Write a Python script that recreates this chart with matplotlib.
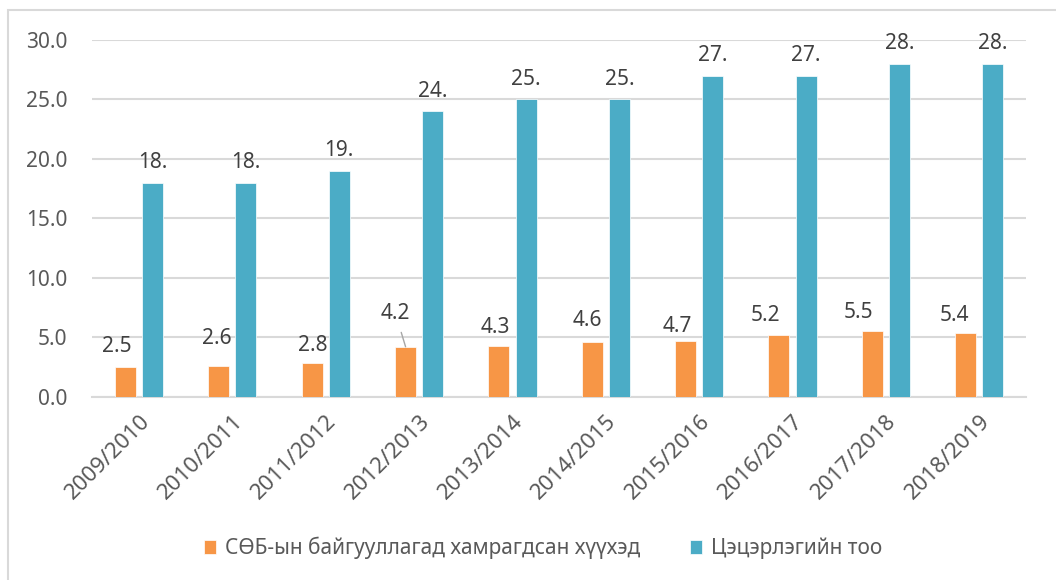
import numpy as np
import matplotlib
matplotlib.use('Agg')
import matplotlib.pyplot as plt
from matplotlib.patches import Rectangle

plt.rcParams['font.family'] = ['Noto Sans', 'DejaVu Sans']

years = ['2009/2010', '2010/2011', '2011/2012', '2012/2013', '2013/2014',
         '2014/2015', '2015/2016', '2016/2017', '2017/2018', '2018/2019']
children = [2.5, 2.6, 2.8, 4.2, 4.3, 4.6, 4.7, 5.2, 5.5, 5.4]
kindergartens = [18, 18, 19, 24, 25, 25, 27, 27, 28, 28]
label_children = 'СӨБ-ын байгууллагад хамрагдсан хүүхэд'
label_kinder = 'Цэцэрлэгийн тоо'

orange = '#F79646'
blue = '#4BACC6'
txt = '#404040'

# label offsets (pixels) for orange labels, as placed in the original
lbl_off = [(-9, 20), (-2, 27), (1, 18), (-10, 33), (-4, 18),
           (-5, 22), (-8, 14), (-13, 19), (-14, 19), (-11, 17)]

fig = plt.figure(figsize=(10.56, 5.80), dpi=100)
ax = fig.add_axes([0.0875, 0.316, 0.884, 0.615])

x = np.arange(len(years))
w = 0.225
off = 0.145
b1 = ax.bar(x - off, children, w, color=orange, edgecolor='white', linewidth=0.5,
            label=label_children, zorder=3)
b2 = ax.bar(x + off, kindergartens, w, color=blue, edgecolor='white', linewidth=0.5,
            label=label_kinder, zorder=3)

for i, v in enumerate(kindergartens):
    ax.annotate(str(v) + '.', (x[i] + off, v), xytext=(0, 20),
                textcoords='offset pixels', ha='center', va='center',
                fontsize=15, color=txt)

for i, v in enumerate(children):
    dx, dy = lbl_off[i]
    arrow = None
    if i == 3:
        # moved label gets a leader line, like excel does
        arrow = dict(arrowstyle='-', color='#A6A6A6', lw=1, shrinkA=4, shrinkB=0)
    ax.annotate('%.1f' % v, (x[i] - off, v), xytext=(dx, dy),
                textcoords='offset pixels', ha='center', va='center',
                fontsize=15, color=txt, arrowprops=arrow)

ax.set_xlim(-0.5, len(years) - 0.5)
ax.set_ylim(0, 30)
ax.set_yticks(np.arange(0, 31, 5))
ax.set_yticklabels(['%.1f' % t for t in np.arange(0, 31, 5)])
ax.set_xticks(x)
ax.set_xticklabels(years, rotation=45, ha='right', rotation_mode='anchor')
ax.tick_params(axis='both', length=0, labelsize=15, labelcolor='#595959')
ax.tick_params(axis='x', pad=10, labelsize=16)
ax.tick_params(axis='y', pad=18)
ax.grid(axis='y', color='#D9D9D9', linewidth=1.5, zorder=0)
for s in ['top', 'right', 'left']:
    ax.spines[s].set_visible(False)
ax.spines['bottom'].set_color('#D9D9D9')
ax.spines['bottom'].set_linewidth(1.5)

fig.legend(handles=[b1, b2], loc='center', bbox_to_anchor=(0.514, 0.055), ncol=2,
           frameon=False, fontsize=15, labelcolor='#595959', handlelength=0.6,
           handleheight=0.6, handletextpad=0.4, columnspacing=2.4)

# outer chart frame
fig.patches.append(Rectangle((8 / 1056, -0.05), 1.2, 1 - 10 / 580 + 0.05,
                             transform=fig.transFigure, fill=False,
                             edgecolor='#D9D9D9', linewidth=1.5))

fig.savefig('out.png', dpi=100)
